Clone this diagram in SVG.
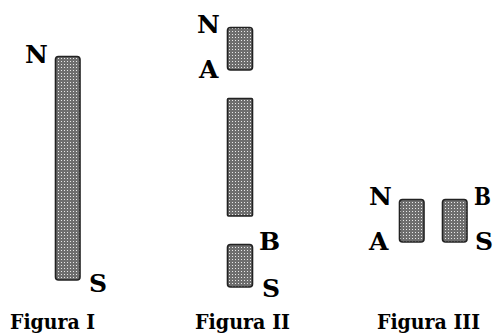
<svg xmlns="http://www.w3.org/2000/svg" width="494" height="334" viewBox="0 0 494 334">
<defs>
<pattern id="dots" width="3" height="3" patternUnits="userSpaceOnUse">
<rect width="3" height="3" fill="#6e6e6e"/>
<rect x="1" y="1" width="1" height="1" fill="#e8e8e8"/>
</pattern>
</defs>
<style>
.bar{fill:url(#dots);stroke:#222;stroke-width:1.6}
.lbl{font-family:"DejaVu Serif","Liberation Serif",serif;font-weight:bold;font-size:25px;fill:#000}
.cap{font-family:"DejaVu Serif","Liberation Serif",serif;font-weight:bold;font-size:21px;fill:#000}
</style>
<rect width="494" height="334" fill="#fff"/>
<g id="fig1">
<rect class="bar" x="55.5" y="56.5" width="24.5" height="223.5" rx="3"/>
<text class="lbl" x="25" y="63">N</text>
<text class="lbl" x="89" y="292">S</text>
<text class="cap" x="10" y="329" textLength="85" lengthAdjust="spacingAndGlyphs">Figura I</text>
</g>
<g id="fig2">
<rect class="bar" x="227.5" y="27.5" width="25" height="42.5" rx="3"/>
<rect class="bar" x="227.5" y="98.5" width="25" height="117.5" rx="1"/>
<rect class="bar" x="227.5" y="244.5" width="25" height="42.5" rx="3"/>
<text class="lbl" x="197" y="33">N</text>
<text class="lbl" x="199" y="78">A</text>
<text class="lbl" x="259" y="250">B</text>
<text class="lbl" x="262" y="297">S</text>
<text class="cap" x="195" y="329" textLength="95" lengthAdjust="spacingAndGlyphs">Figura II</text>
</g>
<g id="fig3">
<rect class="bar" x="399.5" y="199.5" width="24.5" height="42.5" rx="3"/>
<rect class="bar" x="442.5" y="199.5" width="24.5" height="42.5" rx="3"/>
<text class="lbl" x="369" y="205">N</text>
<text class="lbl" x="369" y="250">A</text>
<text class="lbl" x="474" y="205" textLength="17" lengthAdjust="spacingAndGlyphs">B</text>
<text class="lbl" x="475" y="250">S</text>
<text class="cap" x="377" y="329" textLength="103" lengthAdjust="spacingAndGlyphs">Figura III</text>
</g>
</svg>
